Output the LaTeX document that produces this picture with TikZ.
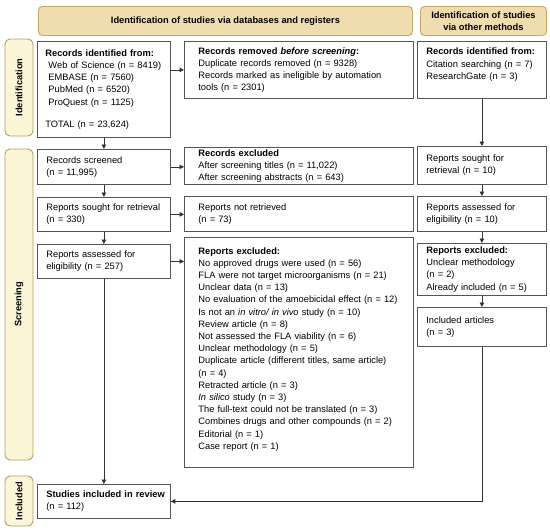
\documentclass[tikz,border=0pt]{standalone}
\usepackage{fontspec}
\setmainfont{Liberation Sans}
\usetikzlibrary{arrows.meta}
\definecolor{hdrfill}{HTML}{EFDDAF}
\definecolor{hdrline}{HTML}{C6A660}
\definecolor{sidefill}{HTML}{FBF6D7}
\definecolor{sideline}{HTML}{B99A5C}
\definecolor{boxline}{HTML}{555555}
\definecolor{arrline}{HTML}{333333}
\tikzset{
  txt/.style={font=\fontsize{9.3}{12.2}\selectfont},
  bx/.style={txt, draw=boxline, line width=0.8pt, fill=white, anchor=north west,
    align=left, inner ysep=0pt},
  bxs/.style n args={4}{minimum width=#1, minimum height=#2, inner xsep=#3, text width=#4},
  hdr/.style={txt, draw=hdrline, fill=hdrfill, line width=0.9pt, rounded corners=4pt,
    anchor=north west, align=center, inner sep=0pt, font=\fontsize{9.3}{11.8}\selectfont\bfseries},
  side/.style={txt, draw=sideline, fill=sidefill, line width=0.9pt, rounded corners=5pt,
    rotate=90, inner sep=0pt, minimum height=28pt, font=\fontsize{9.3}{11.8}\selectfont\bfseries},
  arr/.style={draw=arrline, line width=0.8pt, -{Triangle[length=4.5pt,width=4.5pt]}},
}
\begin{document}
\begin{tikzpicture}[x=1pt,y=-1pt]
\useasboundingbox (0,0) rectangle (550,530);
% headers
\node[hdr, minimum width=374pt, minimum height=29pt] (hdrL) at (38,6) {Identification of studies via databases and registers};
\node[hdr, minimum width=126pt, minimum height=29pt] (hdrR) at (420,6) {Identification of studies\\via other methods};
% side labels
\node[side, minimum width=97pt] (labId) at (19,87.5) {Identification};
\node[side, minimum width=311pt] (labScr) at (19,304.5) {Screening};
\node[side, minimum width=50pt] (labInc) at (19,501) {Included};
% identification
\node[bx, bxs={133pt}{96pt}{8pt}{117pt}] (idL) at (37,41) {\textbf{Records identified from:}\\
\ Web of Science (n = 8419)\\ \ EMBASE (n = 7560)\\ \ PubMed (n = 6520)\\ \ ProQuest (n = 1125)\\[10pt]
TOTAL (n = 23,624)};
\node[bx, bxs={229pt}{57pt}{14pt}{201pt}] (rem) at (184,41) {\textbf{Records removed \textit{before screening}:}\\
Duplicate records removed (n = 9328)\\ Records marked as ineligible by automation\\ tools (n = 2301)};
\node[bx, bxs={129pt}{57pt}{9pt}{111pt}] (idR) at (417,41) {\textbf{Records identified from:}\\
Citation searching (n = 7)\\ ResearchGate (n = 3)\\ \mbox{}};
% screening left
\node[bx, bxs={133pt}{35pt}{9pt}{115pt}] (scr) at (37,149) {Records screened\\ (n = 11,995)};
\node[bx, bxs={133pt}{34pt}{9pt}{115pt}] (sought) at (37,197) {Reports sought for retrieval\\ (n = 330)};
\node[bx, bxs={133pt}{34pt}{9pt}{115pt}] (assess) at (37,244) {Reports assessed for\\ eligibility (n = 257)};
% screening middle
\node[bx, bxs={229pt}{37pt}{14pt}{201pt}] (exc1) at (184,147) {\textbf{Records excluded}\\
After screening titles (n = 11,022)\\ After screening abstracts (n = 643)};
\node[bx, bxs={229pt}{35pt}{14pt}{201pt}] (notret) at (184,196) {Reports not retrieved\\ (n = 73)};
\node[bx, bxs={229pt}{230pt}{14pt}{201pt}] (exc2) at (184,237) {\textbf{Reports excluded:}\\
No approved drugs were used (n = 56)\\
FLA were not target microorganisms (n = 21)\\
Unclear data (n = 13)\\
No evaluation of the amoebicidal effect (n = 12)\\
Is not an \textit{in vitro/ in vivo} study (n = 10)\\
Review article (n = 8)\\
Not assessed the FLA viability (n = 6)\\
Unclear methodology (n = 5)\\
Duplicate article (different titles, same article)\\
(n = 4)\\
Retracted article (n = 3)\\
\textit{In silico} study (n = 3)\\
The full-text could not be translated (n = 3)\\
Combines drugs and other compounds (n = 2)\\
Editorial (n = 1)\\
Case report (n = 1)\\[-4pt]\mbox{}};
% screening right
\node[bx, bxs={129pt}{38pt}{9pt}{111pt}] (sR) at (417,146) {Reports sought for\\ retrieval (n = 10)};
\node[bx, bxs={129pt}{35pt}{9pt}{111pt}] (aR) at (417,196) {Reports assessed for\\ eligibility (n = 10)};
\node[bx, bxs={129pt}{52pt}{9pt}{111pt}] (eR) at (417,243) {\textbf{Reports excluded:}\\
Unclear methodology\\ (n = 2)\\ Already included (n = 5)};
\node[bx, bxs={129pt}{39pt}{9pt}{111pt}] (iR) at (417,307) {Included articles\\ (n = 3)};
% included
\node[bx, bxs={133pt}{34pt}{9pt}{115pt}] (incl) at (37,484) {\makebox[115pt][l]{\textbf{Studies included in review}}\\ (n = 112)};
% connectors
\draw[arr] (idL.south) -- (scr.north);
\draw[arr] (scr.south) -- (sought.north);
\draw[arr] (sought.south) -- (assess.north);
\draw[arr] (assess.south) -- (incl.north);
\draw[arr] (rem.west -| idL.east) -- (rem.west);
\draw[arr] (scr.east) -- (scr.east -| exc1.west);
\draw[arr] (sought.east) -- (sought.east -| notret.west);
\draw[arr] (assess.east) -- (assess.east -| exc2.west);
\draw[arr] (idR.south) -- (sR.north);
\draw[arr] (sR.south) -- (aR.north);
\draw[arr] (aR.south) -- (eR.north);
\draw[arr] (eR.south) -- (iR.north);
\draw[arr] (iR.south) |- (incl.east);
\end{tikzpicture}
\end{document}
